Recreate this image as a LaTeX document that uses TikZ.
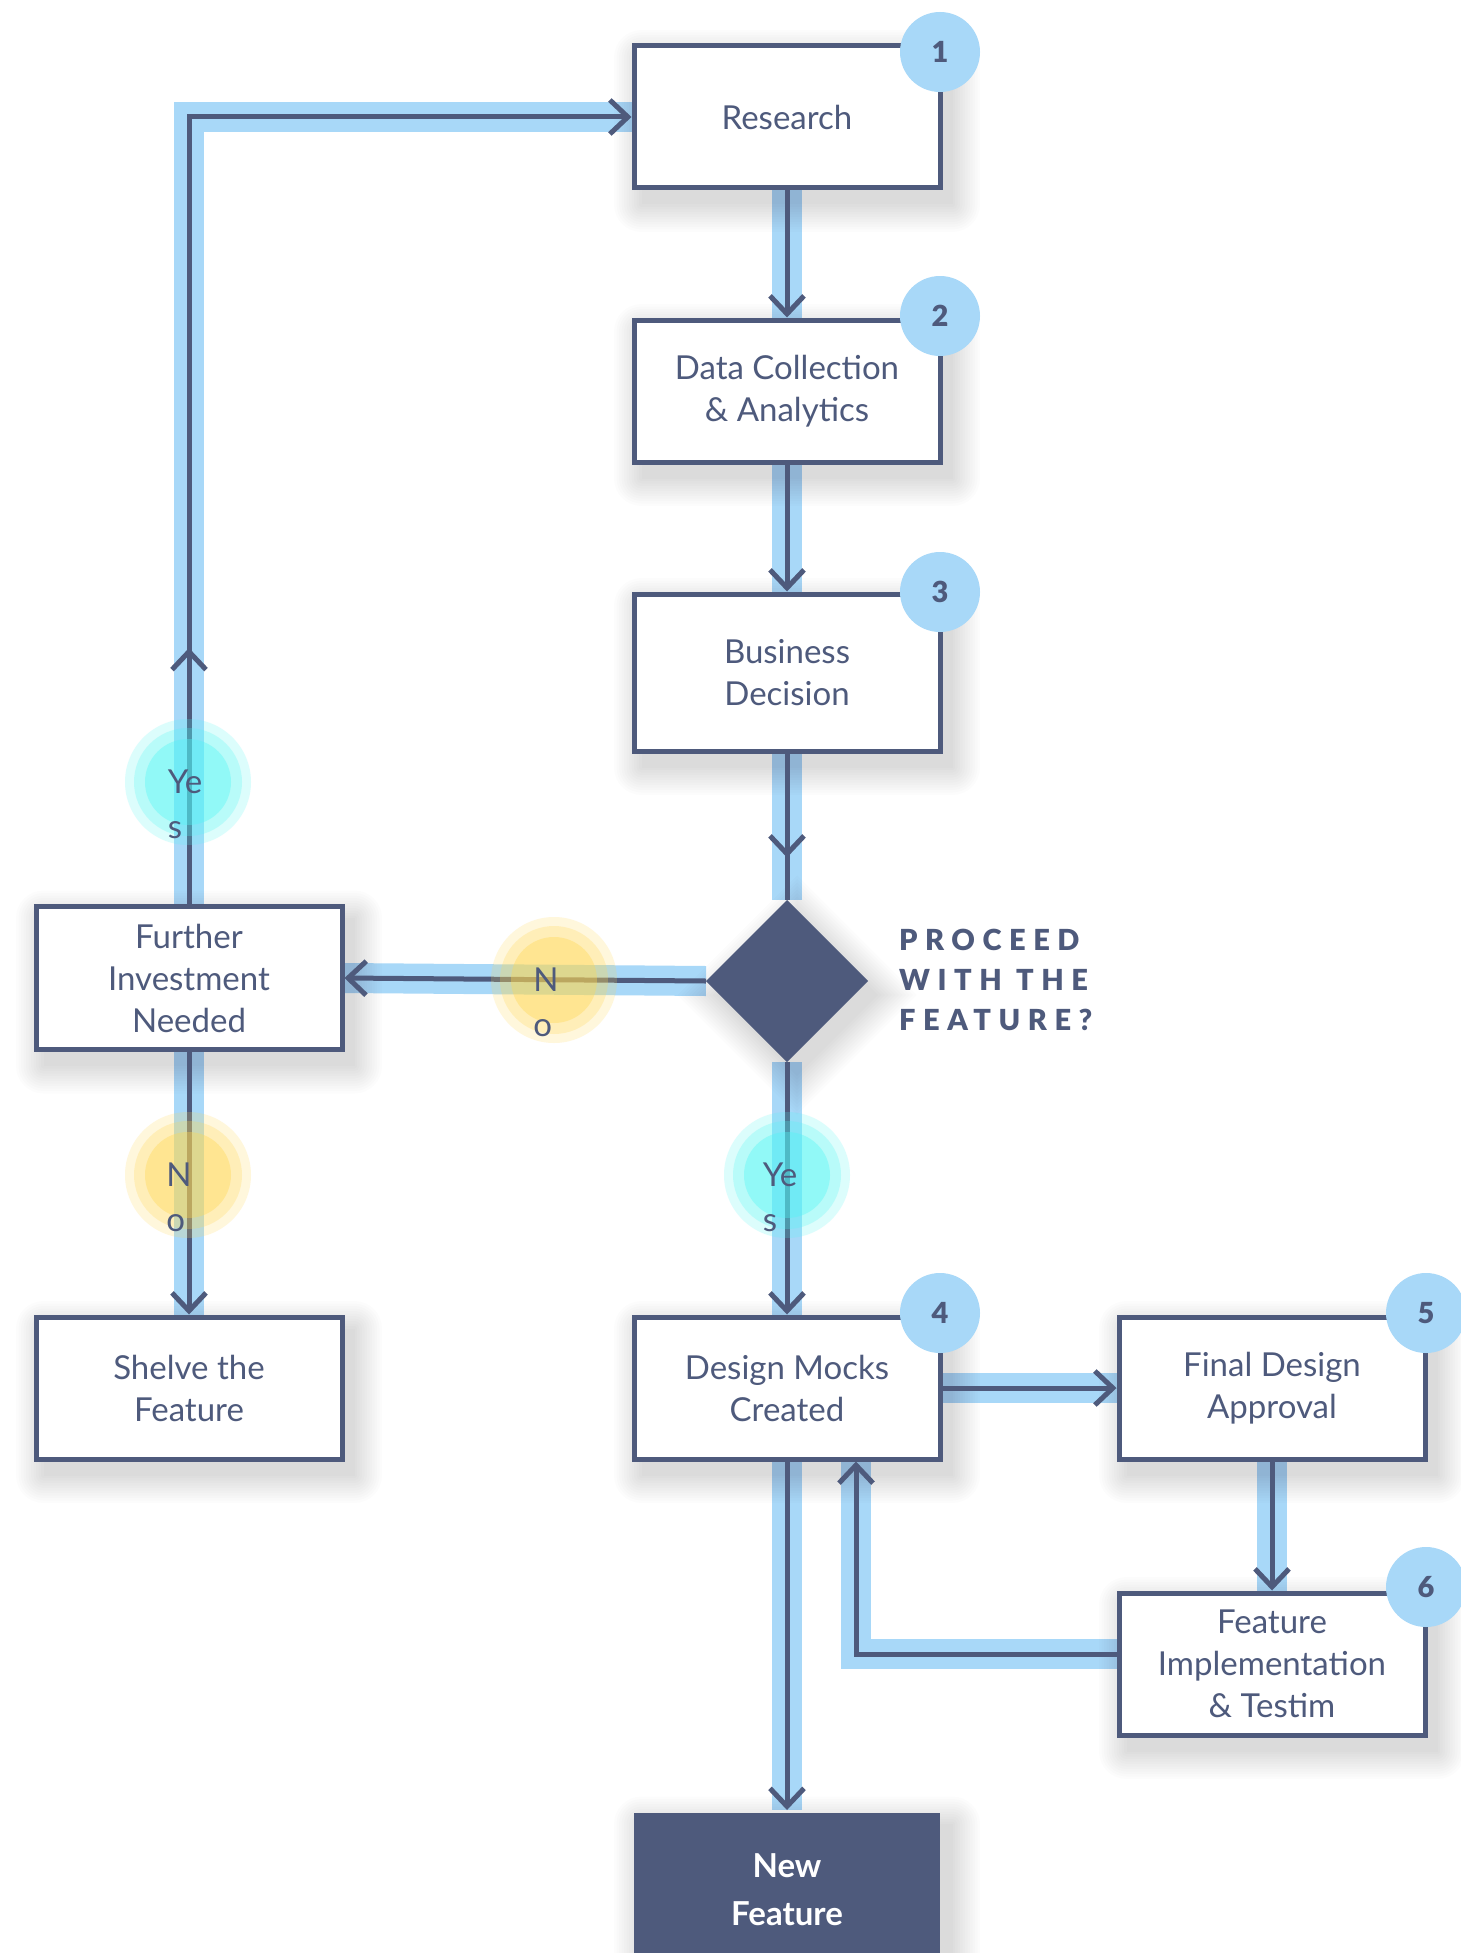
\documentclass[tikz,border=0pt]{standalone}
\usepackage{fontspec}
\setmainfont{Lato}
\newfontfamily\capsfont[LetterSpace=26]{Lato Black}
\newfontfamily\heavyfont{Lato Black}
\usetikzlibrary{arrows.meta}
\usetikzlibrary{positioning}
\usetikzlibrary{shapes.geometric}
\usetikzlibrary{decorations.markings}
\usetikzlibrary{backgrounds}

\definecolor{ink}{RGB}{78,90,124}
\definecolor{band}{RGB}{168,216,248}
\definecolor{aqua}{RGB}{80,246,244}
\definecolor{gold}{RGB}{255,215,80}

\tikzstyle{box} = [draw=ink, line width=5, fill=white, minimum width=306, minimum height=142, inner sep=0, align=center, text=ink, font=\fontsize{33}{42}\selectfont]
\tikzstyle{badge} = [circle, fill=band, minimum size=80, inner sep=0, text=ink, font=\heavyfont\fontsize{29}{29}\selectfont]
\tikzstyle{decision} = [diamond, fill=ink, minimum width=162, minimum height=162, inner sep=0, outer sep=0]
\tikzstyle{pipe} = [band, line width=30]
\tikzstyle{wire} = [ink, line width=5, -{Straight Barb[length=18pt, width=34pt]}]
\tikzstyle{choice} = [align=left, inner sep=0, text=ink, font=\fontsize{33}{45}\selectfont]
\tikzstyle{shade} = [black, fill opacity=0.011]
\tikzset{midtip/.style={postaction={decorate}, decoration={markings, mark=at position #1 with {\arrow{Straight Barb[length=18pt, width=34pt]}}}}}

\begin{document}
\begin{tikzpicture}[x=1pt, y=-1pt]
  \useasboundingbox (0,0) rectangle (1460,1953);

  % steps
  \node[box] (research) at (787,117) {Research};
  \node[box, below=127pt of research] (data) {Data Collection\\\& Analytics};
  \node[box, below=127pt of data, minimum height=157] (biz) {Business\\Decision};
  \node[decision] (dia) at (787,981) {};
  \node[box, minimum height=143] (further) at (189,978) {Further\\Investment\\Needed};
  \node[box] (shelve) at (189,1388) {Shelve the\\Feature};
  \node[box] (mocks) at (787,1388) {Design Mocks\\Created};
  \node[box, right=174pt of mocks] (final) {Final Design\\Approval};
  \node[box, below=129pt of final] (impl) {Feature\\Implementation\\\& Testim};
  \node[box, draw=none, fill=ink, text=white, minimum height=155, font=\bfseries\fontsize{33}{48}\selectfont] (newf) at (787,1890) {New\\Feature};

  \node[anchor=west, align=left, inner sep=0, text=ink, font={\fontsize{29}{40}\capsfont}] (ask) at (899,980) {PROCEED\\WITH THE\\FEATURE?};

  \foreach \x/\y/\n in {940/52/1, 940/316/2, 940/592/3, 940/1313/4, 1426/1313/5, 1426/1587/6}
    \node[badge] (badge\n) at (\x,\y) {\n};

  % light bands under the links, soft shadows over them
  \begin{pgfonlayer}{background}
    \fill[white] (0,0) rectangle (1460,1953);
    \foreach \a/\b in {research/data, data/biz, biz/dia, further/shelve, dia/mocks, mocks/newf}
      \draw[pipe] (\a.south) -- (\b.north);
    \draw[pipe] (dia.west) -- (further.east);
    \draw[pipe] (mocks.east) -- (final.west);
    \draw[pipe] (final.south) -- (impl.north);
    \draw[pipe] (further.north) |- (research.west);
    \draw[pipe] ([yshift=10pt]impl.west) -| ([xshift=69pt]mocks.south);
    \foreach \b in {research, data, biz, further, shelve, mocks, final, impl, newf}
      \foreach \k in {0,...,11}
        \fill[shade, rounded corners=\k*2.5pt] ([shift={(10pt-\k*2.5pt, -14pt+\k*2.5pt)}]\b.north west) rectangle ([shift={(10pt+\k*2.5pt, -14pt-\k*2.5pt)}]\b.south east);
    \foreach \k in {0,...,11}
      \fill[shade] ([shift={(10pt, -14pt+\k*3.5pt)}]dia.north) -- ([shift={(10pt+\k*3.5pt, -14pt)}]dia.east) -- ([shift={(10pt, -14pt-\k*3.5pt)}]dia.south) -- ([shift={(10pt-\k*3.5pt, -14pt)}]dia.west) -- cycle;
  \end{pgfonlayer}

  % links
  \foreach \a/\b in {research/data, data/biz, further/shelve, dia/mocks, mocks/newf}
    \draw[wire] (\a.south) -- (\b.north);
  \draw[wire, -, midtip=104pt] (biz.south) -- (dia.north);
  \draw[wire] (dia.west) -- (further.east);
  \draw[wire] (mocks.east) -- (final.west);
  \draw[wire] (final.south) -- (impl.north);
  \draw[wire, midtip=256pt] (further.north) |- (research.west);
  \draw[wire] ([yshift=10pt]impl.west) -| ([xshift=69pt]mocks.south);

  % yes / no glows
  \foreach \x/\y/\hue in {188/782/aqua, 787/1175/aqua, 554/980/gold, 188/1175/gold}
    \foreach \r/\o in {63/0.2, 54/0.25, 43/0.37}
      \fill[\hue, fill opacity=\o] (\x,\y) circle (\r pt);
  \node[choice] (yesup) at (185,804) {Ye\\s};
  \node[choice] (yesdown) at (780,1197) {Ye\\s};
  \node[choice] (nomid) at (546,1002) {N\\o};
  \node[choice] (nolow) at (179,1197) {N\\o};
\end{tikzpicture}
\end{document}
